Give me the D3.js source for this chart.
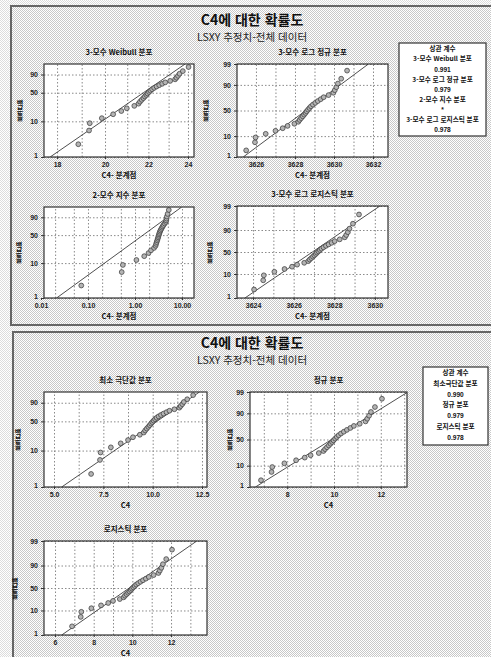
<!DOCTYPE html>
<html lang="ko">
<head>
<meta charset="utf-8">
<title>C4에 대한 확률도</title>
<script src="https://cdn.jsdelivr.net/npm/d3@7"></script>
<style>
  body { margin: 0; background: #fff; }
  svg text { font-family: "Noto Sans CJK KR", "Noto Sans", sans-serif; fill: #111; }
  svg text.num { font-family: "Liberation Sans", "DejaVu Sans", sans-serif; }
  svg text.vert { writing-mode: vertical-rl; text-orientation: upright; }
</style>
</head>
<body>
<div id="chart"></div>
<script>
// C4 values, sorted (n = 30)
var c4 = [6.88, 7.33, 7.36, 7.88, 8.38, 8.75, 9.00, 9.35, 9.55, 9.62,
          9.70, 9.78, 9.85, 9.92, 9.98, 10.05, 10.12, 10.20, 10.30, 10.42,
          10.55, 10.70, 10.85, 11.10, 11.35, 11.42, 11.50, 11.58, 11.75, 12.05];

var mainTitle = "C4에 대한 확률도";
var subTitle = "LSXY 추정치-전체 데이터";
var xTitleThr = "C4- 분계점";
var xTitleC4 = "C4";
var yTitle = "백분율";

var topNames = ["3-모수 Weibull 분포", "3-모수 로그 정규 분포", "2-모수 지수 분포", "3-모수 로그 로지스틱 분포"];
var topCorr = ["0.991", "0.979", "*", "0.978"];
var bottomNames = ["최소 극단값 분포", "정규 분포", "로지스틱 분포"];
var bottomShort = ["최소극단값 분포", "정규 분포", "로지스틱 분포"];
var bottomCorr = ["0.990", "0.979", "0.978"];
var corrTitle = "상관 계수";

// thresholds (x plotted = C4 - threshold)
var thresholds = [-11.98, -3618.62, 6.808, -3617.17];

// fitted lines (LSXY estimates)
var weibullFit = { shape: 20.66, scale: 22.15 };
var lognormFit = { loc: 8.19659, scale: 0.00038 };
var expoFit = { theta: 2.14 };
var loglogFit = { loc: 8.19614, scale: 0.0001995 };
var sevFit = { loc: 10.63, scale: 1.139 };
var normFit = { loc: 9.9, scale: 1.4 };
var logisFit = { loc: 9.84, scale: 0.76 };

// tick labels and grid lines
var weibullTicks = [18, 20, 22, 24];
var weibullGrid = [18, 19, 20, 21, 22, 23, 24];
var lognormTicks = [3626, 3628, 3630, 3632];
var lognormGrid = [3626, 3627, 3628, 3629, 3630, 3631, 3632];
var expoTicks = [0.01, 0.1, 1, 10];
var expoTickLabels = ["0.01", "0.10", "1.00", "10.00"];
var expoGrid = [0.02, 0.05, 0.1, 0.2, 0.5, 1, 2, 5, 10];
var loglogTicks = [3624, 3626, 3628, 3630];
var loglogGrid = [3624, 3625, 3626, 3627, 3628, 3629, 3630];
var sevTicks = [5, 7.5, 10, 12.5];
var sevTickLabels = ["5.0", "7.5", "10.0", "12.5"];
var sevGrid = [5, 6.25, 7.5, 8.75, 10, 11.25, 12.5];
var normTicks = [8, 10, 12];
var normGrid = [7, 8, 9, 10, 11, 12, 13];
var logisTicks = [6, 8, 10, 12];
var logisGrid = [6, 7, 8, 9, 10, 11, 12, 13];
var pctTicksSev = [1, 10, 50, 90];
var pctTicksNorm = [1, 10, 50, 90, 99];

// inverse normal cdf (Acklam)
function qnorm(p) {
    var a = [-3.969683028665376e+01, 2.209460984245205e+02, -2.759285104469687e+02, 1.383577518672690e+02, -3.066479806614716e+01, 2.506628277459239e+00];
    var b = [-5.447609879822406e+01, 1.615858368580409e+02, -1.556989798598866e+02, 6.680131188771972e+01, -1.328068155288572e+01];
    var c = [-7.784894002430293e-03, -3.223964580411365e-01, -2.400758277161838e+00, -2.549671010029011e+00, 4.374664141464968e+00, 2.938163982698783e+00];
    var d = [7.784695709041462e-03, 3.224671290700398e-01, 2.445134137142996e+00, 3.754408661907416e+00];
    var pl = 0.02425, q, r;
    if (p < pl) {
        q = Math.sqrt(-2 * Math.log(p));
        return (((((c[0]*q+c[1])*q+c[2])*q+c[3])*q+c[4])*q+c[5]) / ((((d[0]*q+d[1])*q+d[2])*q+d[3])*q+1);
    }
    if (p > 1 - pl) {
        q = Math.sqrt(-2 * Math.log(1 - p));
        return -(((((c[0]*q+c[1])*q+c[2])*q+c[3])*q+c[4])*q+c[5]) / ((((d[0]*q+d[1])*q+d[2])*q+d[3])*q+1);
    }
    q = p - 0.5; r = q * q;
    return (((((a[0]*r+a[1])*r+a[2])*r+a[3])*r+a[4])*r+a[5])*q / (((((b[0]*r+b[1])*r+b[2])*r+b[3])*r+b[4])*r+1);
}
function sevT(p) { return Math.log(-Math.log(1 - p)); }
function logit(p) { return Math.log(p / (1 - p)); }

// median ranks (Benard) for the plotting positions
var n = c4.length;
var ranks = c4.map(function(v, i) { return (i + 1 - 0.3) / (n + 0.4); });

var width = 491, height = 657;

var svg = d3.select("#chart").append("svg")
    .attr("width", width)
    .attr("height", height);

var defs = svg.append("defs");
function checker(id, col) {
    var p = defs.append("pattern").attr("id", id)
        .attr("width", 2).attr("height", 2).attr("patternUnits", "userSpaceOnUse");
    p.append("rect").attr("width", 2).attr("height", 2).attr("fill", "#fff");
    p.append("rect").attr("width", 1).attr("height", 1).attr("fill", col);
    p.append("rect").attr("x", 1).attr("y", 1).attr("width", 1).attr("height", 1).attr("fill", col);
}
checker("bgOut", "#dcdcdc");
checker("bgIn", "#c8c8c8");

svg.append("rect").attr("width", width).attr("height", height).attr("fill", "url(#bgOut)");

// the two outer panels
function panel(x, y, h) {
    svg.append("rect")
        .attr("x", x).attr("y", y).attr("width", width - x + 10).attr("height", h)
        .attr("fill", "url(#bgIn)")
        .attr("stroke", "#666").attr("stroke-width", 2);
}
panel(11, 6, 319);
panel(13, 332, 340);

function titles(cx, y) {
    svg.append("text").attr("x", cx).attr("y", y)
        .attr("text-anchor", "middle").attr("font-size", 14).attr("font-weight", "bold")
        .text(mainTitle);
    svg.append("text").attr("x", cx).attr("y", y + 16.4)
        .attr("text-anchor", "middle").attr("font-size", 10.5)
        .style("fill", "#222")
        .text(subTitle);
}
titles(252, 25);
titles(252, 348);

var clipId = 0;
function drawPlot(s) {
    var g = svg.append("g");
    var x = s.xScale.range([s.x0, s.x1]);
    var yf = s.ytype === "sev" ? sevT : (s.ytype === "norm" ? qnorm : logit);
    var y = d3.scaleLinear().domain([yf(0.01), yf(0.99)]).range([s.y1, s.y0]);
    var w = s.x1 - s.x0, h = s.y1 - s.y0;
    var yVals = s.yTicks.map(function(t) { return yf(t / 100); });

    g.append("rect").attr("x", s.x0).attr("y", s.y0).attr("width", w).attr("height", h)
        .attr("fill", "#fff");

    // grid lines
    var gx = g.append("g").attr("transform", "translate(0," + s.y1 + ")")
        .call(d3.axisBottom(x).tickValues(s.grid).tickSize(-h).tickFormat(""));
    var gy = g.append("g").attr("transform", "translate(" + s.x0 + ",0)")
        .call(d3.axisLeft(y).tickValues(yVals).tickSize(-w).tickFormat(""));
    [gx, gy].forEach(function(a) {
        a.select(".domain").remove();
        a.selectAll("line").attr("stroke", "#8a8a8a").attr("stroke-dasharray", "1.5,2");
    });

    // tick labels
    var ax = g.append("g").attr("transform", "translate(0," + s.y1 + ")")
        .call(d3.axisBottom(x).tickValues(s.ticks).tickSize(2).tickPadding(3)
            .tickFormat(function(d, i) { return s.tickLabels ? s.tickLabels[i] : d; }));
    var ay = g.append("g").attr("transform", "translate(" + s.x0 + ",0)")
        .call(d3.axisLeft(y).tickValues(yVals).tickSize(3).tickPadding(3)
            .tickFormat(function(d, i) { return s.yTicks[i]; }));
    [ax, ay].forEach(function(a) {
        a.select(".domain").remove();
        a.selectAll("line").attr("stroke", "#333");
        a.selectAll("text").attr("class", "num")
            .attr("font-size", 7).attr("font-weight", "bold").style("fill", "#222");
    });
    // the "1" label sits a touch above the frame corner
    ay.selectAll("text").filter(function(d, i) { return i === 0; }).attr("dy", "0.05em");

    // fitted line, clipped to the plot area
    clipId += 1;
    defs.append("clipPath").attr("id", "clip" + clipId)
        .append("rect").attr("x", s.x0).attr("y", s.y0).attr("width", w).attr("height", h);
    var line = d3.line()
        .x(function(p) { return x(s.fit(p)); })
        .y(function(p) { return y(yf(p)); });
    g.append("path")
        .datum([0.01, 0.5, 0.99])
        .attr("clip-path", "url(#clip" + clipId + ")")
        .attr("fill", "none").attr("stroke", "#222").attr("stroke-width", 0.8)
        .attr("d", line);

    // points
    g.append("g").selectAll("circle")
        .data(c4)
        .enter().append("circle")
        .attr("cx", function(d) { return x(d - s.thr); })
        .attr("cy", function(d, i) { return y(yf(ranks[i])); })
        .attr("r", 2.4)
        .attr("fill", "#b4b4b4").attr("stroke", "#444").attr("stroke-width", 0.8);

    // frame
    g.append("rect").attr("x", s.x0).attr("y", s.y0).attr("width", w).attr("height", h)
        .attr("fill", "none").attr("stroke", "#333").attr("stroke-width", 1.2);

    // titles
    g.append("text").attr("x", (s.x0 + s.x1) / 2).attr("y", s.y0 - 9)
        .attr("text-anchor", "middle").attr("font-size", 7.5).attr("font-weight", "bold")
        .text(s.name);
    g.append("text").attr("x", (s.x0 + s.x1) / 2).attr("y", s.y1 + 21)
        .attr("text-anchor", "middle").attr("font-size", 7.5).attr("font-weight", "bold")
        .text(s.xTitle);
    g.append("text").attr("class", "vert")
        .attr("x", s.x0 - s.ylabDx).attr("y", (s.y0 + s.y1) / 2)
        .attr("text-anchor", "middle").attr("font-size", 7).attr("font-weight", "bold")
        .text(yTitle);
}

// TOP PANEL
drawPlot({ name: topNames[0], x0: 44, x1: 194, y0: 64, y1: 157,
    xScale: d3.scaleLog().domain([17.49, 24.32]), thr: thresholds[0],
    ticks: weibullTicks, grid: weibullGrid, ytype: "sev", yTicks: pctTicksSev,
    fit: function(p) { return weibullFit.scale * Math.exp(sevT(p) / weibullFit.shape); },
    xTitle: xTitleThr, ylabDx: 24 });
drawPlot({ name: topNames[1], x0: 237, x1: 388, y0: 64, y1: 157,
    xScale: d3.scaleLog().domain([3625.03, 3632.77]), thr: thresholds[1],
    ticks: lognormTicks, grid: lognormGrid, ytype: "norm", yTicks: pctTicksNorm,
    fit: function(p) { return Math.exp(lognormFit.loc + lognormFit.scale * qnorm(p)); },
    xTitle: xTitleThr, ylabDx: 31 });
drawPlot({ name: topNames[2], x0: 44, x1: 194, y0: 207, y1: 298,
    xScale: d3.scaleLog().domain([0.0116, 18]), thr: thresholds[2],
    ticks: expoTicks, tickLabels: expoTickLabels, grid: expoGrid, ytype: "sev", yTicks: pctTicksSev,
    fit: function(p) { return expoFit.theta * (-Math.log(1 - p)); },
    xTitle: xTitleThr, ylabDx: 25 });
drawPlot({ name: topNames[3], x0: 237, x1: 388, y0: 206, y1: 298,
    xScale: d3.scaleLog().domain([3623.21, 3630.65]), thr: thresholds[3],
    ticks: loglogTicks, grid: loglogGrid, ytype: "logis", yTicks: pctTicksNorm,
    fit: function(p) { return Math.exp(loglogFit.loc + loglogFit.scale * logit(p)); },
    xTitle: xTitleThr, ylabDx: 27 });

// BOTTOM PANEL
drawPlot({ name: bottomNames[0], x0: 44, x1: 207, y0: 392, y1: 487,
    xScale: d3.scaleLinear().domain([4.493, 12.753]), thr: 0,
    ticks: sevTicks, tickLabels: sevTickLabels, grid: sevGrid, ytype: "sev", yTicks: pctTicksSev,
    fit: function(p) { return sevFit.loc + sevFit.scale * sevT(p); },
    xTitle: xTitleC4, ylabDx: 26 });
drawPlot({ name: bottomNames[1], x0: 250, x1: 407, y0: 392, y1: 487,
    xScale: d3.scaleLinear().domain([6.41, 13.12]), thr: 0,
    ticks: normTicks, grid: normGrid, ytype: "norm", yTicks: pctTicksNorm,
    fit: function(p) { return normFit.loc + normFit.scale * qnorm(p); },
    xTitle: xTitleC4, ylabDx: 20 });
drawPlot({ name: bottomNames[2], x0: 44, x1: 207, y0: 541, y1: 635,
    xScale: d3.scaleLinear().domain([5.43, 13.86]), thr: 0,
    ticks: logisTicks, grid: logisGrid, ytype: "logis", yTicks: pctTicksNorm,
    fit: function(p) { return logisFit.loc + logisFit.scale * logit(p); },
    xTitle: xTitleC4, ylabDx: 29 });

// correlation boxes
function corrBox(x0, y0, x1, y1, rows, step) {
    var g = svg.append("g");
    g.append("rect").attr("x", x0).attr("y", y0).attr("width", x1 - x0).attr("height", y1 - y0)
        .attr("fill", "#fff").attr("stroke", "#333").attr("stroke-width", 1.2);
    g.selectAll("text").data(rows).enter().append("text")
        .attr("class", function(d, i) { return (i % 2 === 0 && i > 0) ? "num" : null; })
        .attr("x", (x0 + x1) / 2)
        .attr("y", function(d, i) { return y0 + 6 + i * step; })
        .attr("dy", "0.35em")
        .attr("text-anchor", "middle").attr("font-size", 6.6).attr("font-weight", "bold")
        .text(function(d) { return d; });
}
var topRows = [corrTitle];
topNames.forEach(function(nm, i) { topRows.push(nm, topCorr[i]); });
corrBox(399, 43, 486, 136, topRows, 10.1);
var botRows = [corrTitle];
bottomShort.forEach(function(nm, i) { botRows.push(nm, bottomCorr[i]); });
corrBox(423, 367, 488, 445, botRows, 10.7);
</script>
</body>
</html>
